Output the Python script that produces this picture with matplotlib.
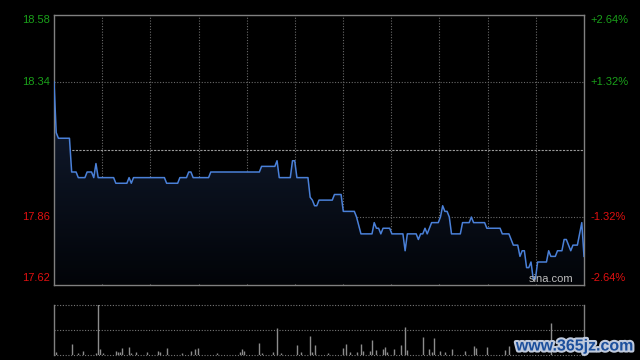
import numpy as np
import matplotlib
matplotlib.use("Agg")
import matplotlib.pyplot as plt
import matplotlib.patheffects as pe
from matplotlib.colors import LinearSegmentedColormap

plt.rcParams['font.family'] = ['Liberation Sans', 'DejaVu Sans']

BG = "#000000"
LINE = "#4a80d8"
GRID = "#6a6a6a"
SPINE = "#808080"
GREEN = "#1aa01a"
RED = "#e01010"

# ── 分时数据 (分钟序号, 价格) ────────────────────────────────────────────────
minutes = [0, 1, 2, 7, 8, 10, 11, 14, 15, 17, 18, 19, 20, 27, 28, 33, 34, 35, 36,
           50, 51, 56, 57, 60, 61, 62, 63, 70, 71, 93, 94, 100, 101, 102, 107, 108,
           109, 110, 115, 116, 117, 118, 119, 120, 126, 127, 130, 131, 136, 137,
           139, 144, 145, 146, 147, 148, 149, 152, 153, 158, 159, 160, 164, 165,
           166, 167, 168, 169, 170, 171, 174, 175, 176, 177, 178, 179, 180, 184,
           185, 188, 189, 190, 195, 196, 202, 203, 206, 207, 208, 210, 211, 212,
           213, 214, 215, 216, 217, 218, 219, 223, 224, 225, 227, 228, 230, 231,
           232, 233, 234, 235, 237, 238, 239, 240]
prices = [18.34, 18.16, 18.14, 18.14, 18.02, 18.02, 18.00, 18.00, 18.02, 18.02,
          18.00, 18.05, 18.00, 18.00, 17.98, 17.98, 18.00, 17.98, 18.00,
          18.00, 17.98, 17.98, 18.00, 18.00, 18.02, 18.02, 18.00, 18.00, 18.02,
          18.02, 18.04, 18.04, 18.06, 18.00, 18.00, 18.06,
          18.06, 18.00, 18.00, 17.93, 17.92, 17.90, 17.90, 17.92, 17.92, 17.94,
          17.94, 17.88, 17.88, 17.86,
          17.80, 17.80, 17.84, 17.82, 17.82, 17.80, 17.82, 17.82, 17.80, 17.80,
          17.74, 17.80, 17.80, 17.78,
          17.80, 17.80, 17.82, 17.80, 17.82, 17.84, 17.84, 17.86, 17.90, 17.88,
          17.88, 17.86, 17.80, 17.80,
          17.84, 17.84, 17.86, 17.84, 17.84, 17.82, 17.82, 17.80, 17.80, 17.78,
          17.76, 17.76, 17.72, 17.74,
          17.74, 17.68, 17.68, 17.70, 17.64, 17.64, 17.70, 17.70, 17.74, 17.72,
          17.72, 17.74, 17.74, 17.78,
          17.78, 17.76, 17.74, 17.76, 17.76, 17.80, 17.84, 17.72]

# ── 成交量 (分钟序号, 手) ────────────────────────────────────────────────────
vol_minutes = [1, 8, 11, 13, 19, 20, 21, 22, 28, 29, 30, 31, 34, 35, 37, 42, 47,
               48, 51, 58, 62, 64, 65, 74, 84, 85, 86, 93, 94, 99, 101, 103, 110,
               112, 116, 117, 118, 124, 131, 132, 134, 137, 139, 140, 143, 144,
               146, 149, 150, 151, 154, 157, 159, 160, 167, 170, 171, 172, 175,
               177, 180, 186, 190, 191, 196, 204, 206, 225]
volumes = [250, 1050, 150, 350, 200, 6000, 550, 200, 400, 250, 250, 650, 750, 200,
           250, 250, 400, 250, 650, 200, 380, 550, 650, 200, 250, 550, 380, 1150,
           200, 250, 2650, 200, 950, 250, 1850, 250, 950, 200, 650, 1050, 250,
           250, 1050, 350, 350, 1450, 450, 550, 750, 250, 550, 950, 2750, 450,
           1750, 550, 250, 1650, 350, 300, 550, 350, 850, 650, 750, 450, 850, 3150]

prev_close = 18.10
price_levels = [18.58, 18.34, 17.86, 17.62]
left_labels = ["18.58", "18.34", "17.86", "17.62"]
right_labels = ["+2.64%", "+1.32%", "-1.32%", "-2.64%"]
VOL_MAX = 5000
N_MIN = 240


def main():
    fig = plt.figure(figsize=(6.4, 3.6), dpi=100)
    fig.patch.set_facecolor(BG)

    ax = fig.add_axes([54 / 640, 75.5 / 360, 530 / 640, 270 / 360])
    axv = fig.add_axes([54 / 640, 5.5 / 360, 530 / 640, 49.8 / 360])
    lo, hi = price_levels[-1], price_levels[0]

    # ── 价格面板 ─────────────────────────────────────────────────────────────
    ax.set_facecolor(BG)
    ax.set_xlim(0, N_MIN)
    ax.set_ylim(lo, hi)
    ax.set_xticks([]); ax.set_yticks([])
    for s in ax.spines.values():
        s.set_color(SPINE); s.set_linewidth(1.0)

    for k in range(1, 11):
        ax.axvline(N_MIN * k / 11, color=GRID, lw=0.8, ls=(0, (1, 1.5)), zorder=1)
    for lv in price_levels[1:-1]:
        ax.axhline(lv, color=GRID, lw=0.8, ls=(0, (1, 1.5)), zorder=1)
    ax.axhline(prev_close, color="#9a9a9a", lw=0.8, ls=(0, (2, 1.2)), zorder=1)

    # 渐变填充
    poly = ax.fill_between(minutes, prices, lo, color="none", lw=0)
    cmap = LinearSegmentedColormap.from_list("f", ["#020408", "#131e34"])
    grad = np.linspace(0, 1, 256).reshape(-1, 1)
    im = ax.imshow(grad, extent=[0, N_MIN, lo, max(prices)], origin="lower",
                   aspect="auto", cmap=cmap, zorder=2)
    im.set_clip_path(poly.get_paths()[0], transform=ax.transData)
    ax.set_xlim(0, N_MIN); ax.set_ylim(lo, hi)

    ax.plot(minutes, prices, color=LINE, lw=1.1, zorder=3)

    ytrans = ax.get_yaxis_transform()
    span = hi - lo
    for lv, lt, rt in zip(price_levels, left_labels, right_labels):
        col = GREEN if lv > prev_close else RED
        yy = lv
        if lv == hi:
            yy = lv - span * 5.5 / 270
        elif lv == lo:
            yy = lv + span * 6.5 / 270
        ax.text(-0.007, yy, lt, transform=ytrans, ha="right", va="center",
                color=col, fontsize=8)
        ax.text(1.012, yy, rt, transform=ytrans, ha="left", va="center",
                color=col, fontsize=8)

    ax.text(0.98, 0.019, "sina.com", transform=ax.transAxes, ha="right",
            va="center", color="#bdbdbd", fontsize=8, zorder=4)

    # ── 成交量面板 ───────────────────────────────────────────────────────────
    axv.set_facecolor(BG)
    axv.set_xlim(0, N_MIN)
    axv.set_ylim(0, VOL_MAX)
    axv.set_xticks([]); axv.set_yticks([])
    for side in ("top", "bottom"):
        axv.spines[side].set_visible(False)
    for side in ("left", "right"):
        axv.spines[side].set_color(SPINE); axv.spines[side].set_linewidth(1.0)
    for lv in (0, VOL_MAX / 2, VOL_MAX):
        axv.axhline(lv, color="#777777", lw=0.8, ls=(0, (1, 1.5)), zorder=1,
                    clip_on=False)
    axv.vlines(vol_minutes, 0, volumes, color="#8c8c8c", lw=1.0, zorder=2)

    fig.text(575 / 640, 14 / 360, "www.365jz.com", ha="center", va="center",
             color="#1c4f9c", fontsize=11.5, fontweight="bold",
             family="Liberation Sans",
             path_effects=[pe.withStroke(linewidth=3, foreground="#c0cadc")])

    fig.savefig("out.png", dpi=100, facecolor=BG)


if __name__ == "__main__":
    main()
